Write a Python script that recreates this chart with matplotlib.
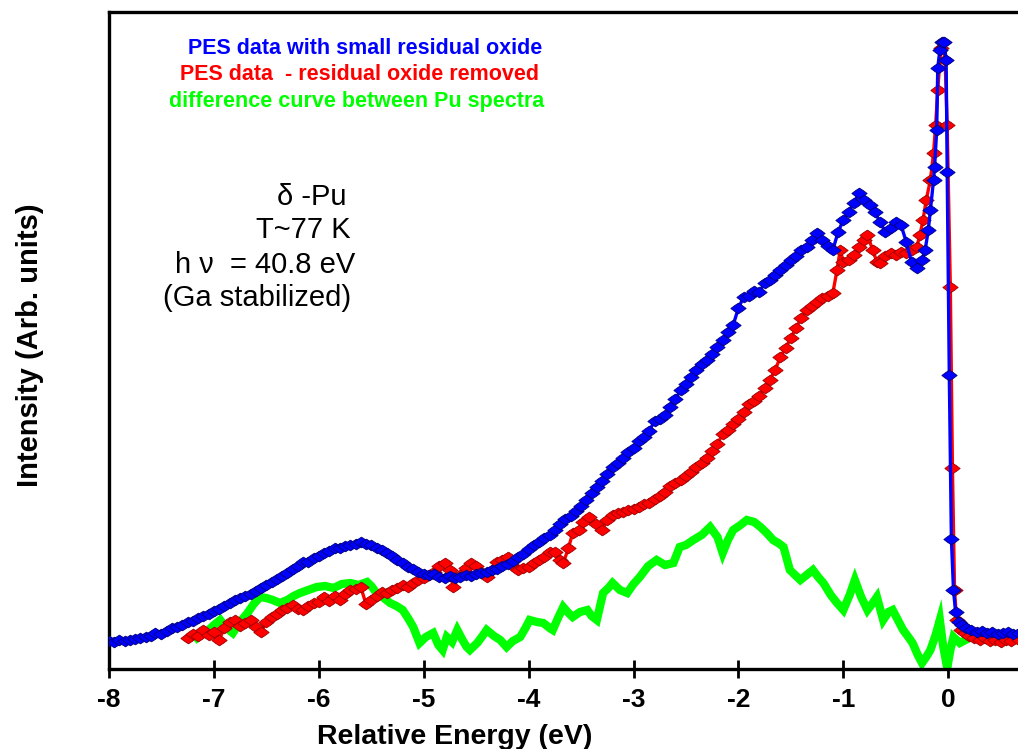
import numpy as np
import matplotlib
matplotlib.use("Agg")
import matplotlib.pyplot as plt
from matplotlib.path import Path

# ---- photoemission spectra of delta-Pu (arbitrary intensity units) ----
energy_oxide = [
    -8.00, -7.95, -7.90, -7.85, -7.80, -7.75, -7.70, -7.65, -7.60, -7.56, -7.50, -7.45, -7.40, -7.35,
    -7.30, -7.25, -7.20, -7.15, -7.10, -7.05, -7.00, -6.95, -6.90, -6.85, -6.80, -6.75, -6.70, -6.65,
    -6.60, -6.55, -6.50, -6.45, -6.40, -6.35, -6.30, -6.25, -6.20, -6.15, -6.10, -6.05, -6.00, -5.95,
    -5.90, -5.85, -5.80, -5.75, -5.70, -5.65, -5.60, -5.55, -5.50, -5.45, -5.40, -5.35, -5.30, -5.25,
    -5.20, -5.15, -5.10, -5.05, -5.00, -4.95, -4.90, -4.85, -4.80, -4.75, -4.70, -4.65, -4.60, -4.55,
    -4.50, -4.45, -4.40, -4.35, -4.30, -4.25, -4.20, -4.15, -4.10, -4.05, -4.00, -3.95, -3.90, -3.85,
    -3.80, -3.75, -3.70, -3.65, -3.60, -3.55, -3.50, -3.45, -3.40, -3.35, -3.30, -3.25, -3.20, -3.15,
    -3.10, -3.05, -3.00, -2.95, -2.90, -2.85, -2.80, -2.75, -2.70, -2.65, -2.60, -2.55, -2.50, -2.45,
    -2.40, -2.35, -2.30, -2.25, -2.20, -2.15, -2.10, -2.05, -2.00, -1.95, -1.90, -1.85, -1.80, -1.75,
    -1.70, -1.65, -1.60, -1.55, -1.50, -1.45, -1.40, -1.35, -1.30, -1.25, -1.20, -1.15, -1.10, -1.05,
    -1.00, -0.95, -0.90, -0.85, -0.80, -0.75, -0.70, -0.65, -0.60, -0.55, -0.50, -0.45, -0.40, -0.35,
    -0.30, -0.25, -0.22, -0.19, -0.17, -0.14, -0.13, -0.11, -0.10, -0.08, -0.06, -0.04, -0.02, -0.01,
    0.01, 0.03, 0.05, 0.07, 0.10, 0.13, 0.17, 0.22, 0.27, 0.32, 0.37, 0.42, 0.47, 0.52,
    0.57, 0.62, 0.67,
]
intensity_oxide = [
    28, 27, 29, 28, 29, 30, 31, 32, 33, 36, 35, 38, 41, 42,
    44, 47, 48, 51, 53, 55, 58, 60, 63, 66, 69, 71, 73, 75,
    78, 81, 84, 87, 90, 93, 96, 100, 103, 107, 107, 111, 113, 116,
    118, 121, 121, 123, 124, 125, 127, 125, 124, 121, 119, 116, 113, 109,
    106, 102, 100, 97, 95, 94, 95, 92, 91, 93, 91, 92, 94, 93,
    95, 96, 97, 99, 100, 103, 105, 108, 112, 115, 120, 124, 127, 131,
    134, 139, 145, 150, 153, 158, 163, 169, 176, 182, 188, 195, 202, 206,
    211, 217, 221, 228, 232, 238, 248, 250, 254, 262, 270, 279, 285, 292,
    299, 305, 309, 315, 322, 329, 337, 344, 361, 372, 373, 378, 377, 386,
    389, 394, 399, 404, 409, 413, 419, 422, 429, 436, 429, 423, 419, 437,
    449, 457, 466, 476, 469, 464, 457, 447, 437, 441, 447, 444, 427, 407,
    401, 409, 419, 439, 459, 489, 502, 539, 601, 619, 627, 627, 609, 497,
    294, 130, 79, 57, 47, 44, 41, 39, 37, 38, 36, 37, 35, 36,
    37, 35, 36,
]

energy_clean = [
    -7.25, -7.20, -7.15, -7.10, -7.05, -7.00, -6.95, -6.90, -6.85, -6.80, -6.75, -6.70, -6.65, -6.60,
    -6.55, -6.50, -6.45, -6.40, -6.35, -6.30, -6.25, -6.20, -6.15, -6.10, -6.05, -6.00, -5.95, -5.90,
    -5.85, -5.80, -5.75, -5.70, -5.65, -5.60, -5.55, -5.50, -5.45, -5.40, -5.35, -5.30, -5.25, -5.20,
    -5.15, -5.10, -5.05, -5.00, -4.95, -4.90, -4.85, -4.80, -4.75, -4.72, -4.65, -4.60, -4.55, -4.50,
    -4.45, -4.40, -4.35, -4.30, -4.25, -4.20, -4.15, -4.10, -4.05, -4.00, -3.95, -3.90, -3.85, -3.80,
    -3.75, -3.70, -3.67, -3.62, -3.58, -3.52, -3.48, -3.42, -3.36, -3.30, -3.25, -3.20, -3.15, -3.10,
    -3.05, -3.00, -2.95, -2.90, -2.85, -2.80, -2.75, -2.70, -2.65, -2.60, -2.55, -2.50, -2.45, -2.40,
    -2.35, -2.30, -2.25, -2.20, -2.15, -2.10, -2.05, -2.00, -1.95, -1.90, -1.85, -1.80, -1.75, -1.70,
    -1.65, -1.60, -1.55, -1.50, -1.45, -1.40, -1.35, -1.30, -1.25, -1.20, -1.15, -1.10, -1.06, -1.03,
    -1.00, -0.95, -0.90, -0.85, -0.80, -0.77, -0.72, -0.68, -0.65, -0.60, -0.55, -0.50, -0.45, -0.40,
    -0.35, -0.30, -0.27, -0.24, -0.21, -0.17, -0.14, -0.12, -0.10, -0.07, -0.05, -0.03, -0.01, 0.02,
    0.04, 0.06, 0.08, 0.12, 0.16, 0.20, 0.25, 0.30, 0.35, 0.40, 0.45, 0.50, 0.55, 0.60,
    0.67,
]
intensity_clean = [
    31, 35, 33, 39, 34, 37, 29, 41, 47, 49, 43, 46, 49, 42,
    37, 47, 52, 55, 59, 61, 64, 60, 59, 63, 66, 67, 72, 68,
    73, 69, 75, 79, 80, 82, 65, 69, 73, 77, 76, 79, 81, 84,
    82, 86, 89, 91, 94, 97, 103, 106, 99, 82, 94, 101, 106, 103,
    97, 92, 99, 107, 109, 112, 103, 99, 101, 102, 106, 109, 112, 117,
    117, 109, 106, 121, 136, 139, 147, 152, 145, 139, 149, 154, 156, 157,
    159, 160, 162, 165, 166, 170, 173, 177, 183, 186, 189, 193, 197, 202,
    206, 211, 218, 225, 235, 239, 245, 250, 257, 265, 268, 273, 281, 289,
    299, 312, 321, 331, 341, 351, 359, 363, 367, 371, 373, 376, 399, 419,
    407, 409, 414, 422, 429, 434, 419, 407, 406, 413, 416, 414, 417, 416,
    419, 422, 434, 449, 469, 489, 516, 544, 579, 621, 627, 609, 544, 382,
    201, 79, 49, 39, 36, 33, 31, 29, 31, 28, 29, 27, 29, 28,
    29,
]

energy_diff = [
    -7.16, -7.10, -7.05, -7.00, -6.94, -6.88, -6.82, -6.75, -6.68, -6.62, -6.56, -6.50, -6.44, -6.37,
    -6.30, -6.24, -6.18, -6.10, -6.02, -5.94, -5.86, -5.78, -5.70, -5.62, -5.54, -5.50, -5.45, -5.38,
    -5.32, -5.26, -5.20, -5.15, -5.10, -5.04, -4.98, -4.91, -4.86, -4.82, -4.78, -4.73, -4.68, -4.63,
    -4.59, -4.56, -4.49, -4.44, -4.40, -4.33, -4.27, -4.21, -4.15, -4.08, -4.03, -3.99, -3.92, -3.86,
    -3.80, -3.77, -3.72, -3.67, -3.62, -3.58, -3.51, -3.44, -3.40, -3.35, -3.29, -3.24, -3.20, -3.13,
    -3.06, -3.00, -2.94, -2.86, -2.78, -2.70, -2.62, -2.56, -2.50, -2.43, -2.35, -2.27, -2.20, -2.15,
    -2.10, -2.05, -1.98, -1.92, -1.85, -1.79, -1.73, -1.67, -1.62, -1.57, -1.51, -1.46, -1.41, -1.35,
    -1.29, -1.24, -1.19, -1.12, -1.06, -1.00, -0.94, -0.89, -0.83, -0.77, -0.72, -0.68, -0.62, -0.57,
    -0.53, -0.48, -0.43, -0.38, -0.34, -0.29, -0.25, -0.21, -0.17, -0.12, -0.08, -0.05, -0.01, 0.02,
    0.05, 0.08, 0.11, 0.20, 0.30, 0.40, 0.50, 0.60, 0.67,
]
intensity_diff = [
    31, 36, 39, 44, 49, 41, 36, 47, 56, 65, 72, 71, 69, 66,
    69, 73, 76, 79, 82, 83, 81, 85, 86, 84, 87, 83, 76, 71,
    66, 63, 59, 51, 42, 26, 32, 36, 24, 19, 32, 27, 39, 29,
    22, 19, 26, 33, 39, 33, 29, 22, 28, 32, 41, 49, 47, 46,
    41, 39, 51, 62, 56, 52, 57, 59, 53, 49, 76, 81, 86, 79,
    76, 85, 92, 103, 109, 104, 106, 122, 124, 129, 134, 142, 132, 116,
    129, 139, 144, 149, 147, 142, 136, 129, 126, 122, 99, 94, 89, 94,
    99, 92, 86, 74, 66, 59, 74, 89, 72, 59, 66, 72, 49, 57,
    59, 49, 39, 32, 26, 14, 6, 12, 19, 34, 49, 24, 1, 19,
    32, 29, 26, 31, 33, 32, 33, 34, 33,
]

series_labels = [
    "PES data with small residual oxide",
    "PES data  - residual oxide removed",
    "difference curve between Pu spectra",
]
x_ticks = [-8, -7, -6, -5, -4, -3, -2, -1, 0]

BLUE = "#0000ff"
RED = "#ff0000"
GREEN = "#00ff00"

plt.rcParams["font.family"] = ["Liberation Sans", "DejaVu Sans"]

W, H = 1018, 749
fig = plt.figure(figsize=(W / 100, H / 100), dpi=100)
ax = fig.add_axes([109 / W, 80 / H, 909 / W, 657 / H])

# chunky diamond marker used for the measured spectra
gem = Path([(-1.0, 0.0), (-0.5, 0.38), (0.0, 0.7), (0.5, 0.38), (1.0, 0.0),
            (0.5, -0.38), (0.0, -0.7), (-0.5, -0.38), (-1.0, 0.0)],
           [Path.MOVETO] + [Path.LINETO] * 7 + [Path.CLOSEPOLY])

ax.plot(energy_diff, intensity_diff, color=GREEN, lw=6.0, solid_joinstyle="miter",
        zorder=2)
ax.plot(energy_clean, intensity_clean, color=RED, lw=2.4, marker=gem, ms=11,
        mfc=RED, mec="#9b0000", mew=0.6, zorder=3)
ax.plot(energy_oxide, intensity_oxide, color=BLUE, lw=2.4, marker=gem, ms=11,
        mfc=BLUE, mec="#00007a", mew=0.6, zorder=4)

ax.set_xlim(-8, 0.665)
ax.set_ylim(0, 657)
ax.set_xticks(x_ticks)
ax.set_xticklabels([str(t) for t in x_ticks], fontsize=19, fontweight="bold")
ax.set_yticks([])
ax.tick_params(axis="x", direction="inout", length=13, width=2.0, pad=7)

for side in ("left", "top", "bottom"):
    ax.spines[side].set_linewidth(2.4)
ax.spines["right"].set_visible(False)

ax.set_xlabel("Relative Energy (eV)", fontsize=20.5, fontweight="bold")
ax.xaxis.set_label_coords((455 - 109) / 909, (669 - 737) / 657)
ax.xaxis.label.set_va("center")
ax.set_ylabel("Intensity (Arb. units)", fontsize=21, fontweight="bold")
ax.yaxis.set_label_coords((30 - 109) / 909, (669 - 345) / 657)
ax.yaxis.label.set_va("center")


def fx(px):
    return px / W


def fy(py):
    return 1 - py / H


# coloured series captions
for label, color, cx, cy in zip(series_labels, [BLUE, RED, GREEN],
                                [365, 360, 357], [48, 75, 102]):
    fig.text(fx(cx), fy(cy), label, color=color, fontsize=15.5, fontweight="bold",
             ha="center", va="center")

# sample / measurement conditions
notes = [("\u03b4 -Pu", 277, 197), ("T~77 K", 256, 230),
         ("h \u03bd  = 40.8 eV", 175, 265), ("(Ga stabilized)", 163, 298)]
for txt, lx, cy in notes:
    fig.text(fx(lx), fy(cy), txt, fontsize=21, color="black", ha="left", va="center")

fig.savefig("out.png", dpi=100)
